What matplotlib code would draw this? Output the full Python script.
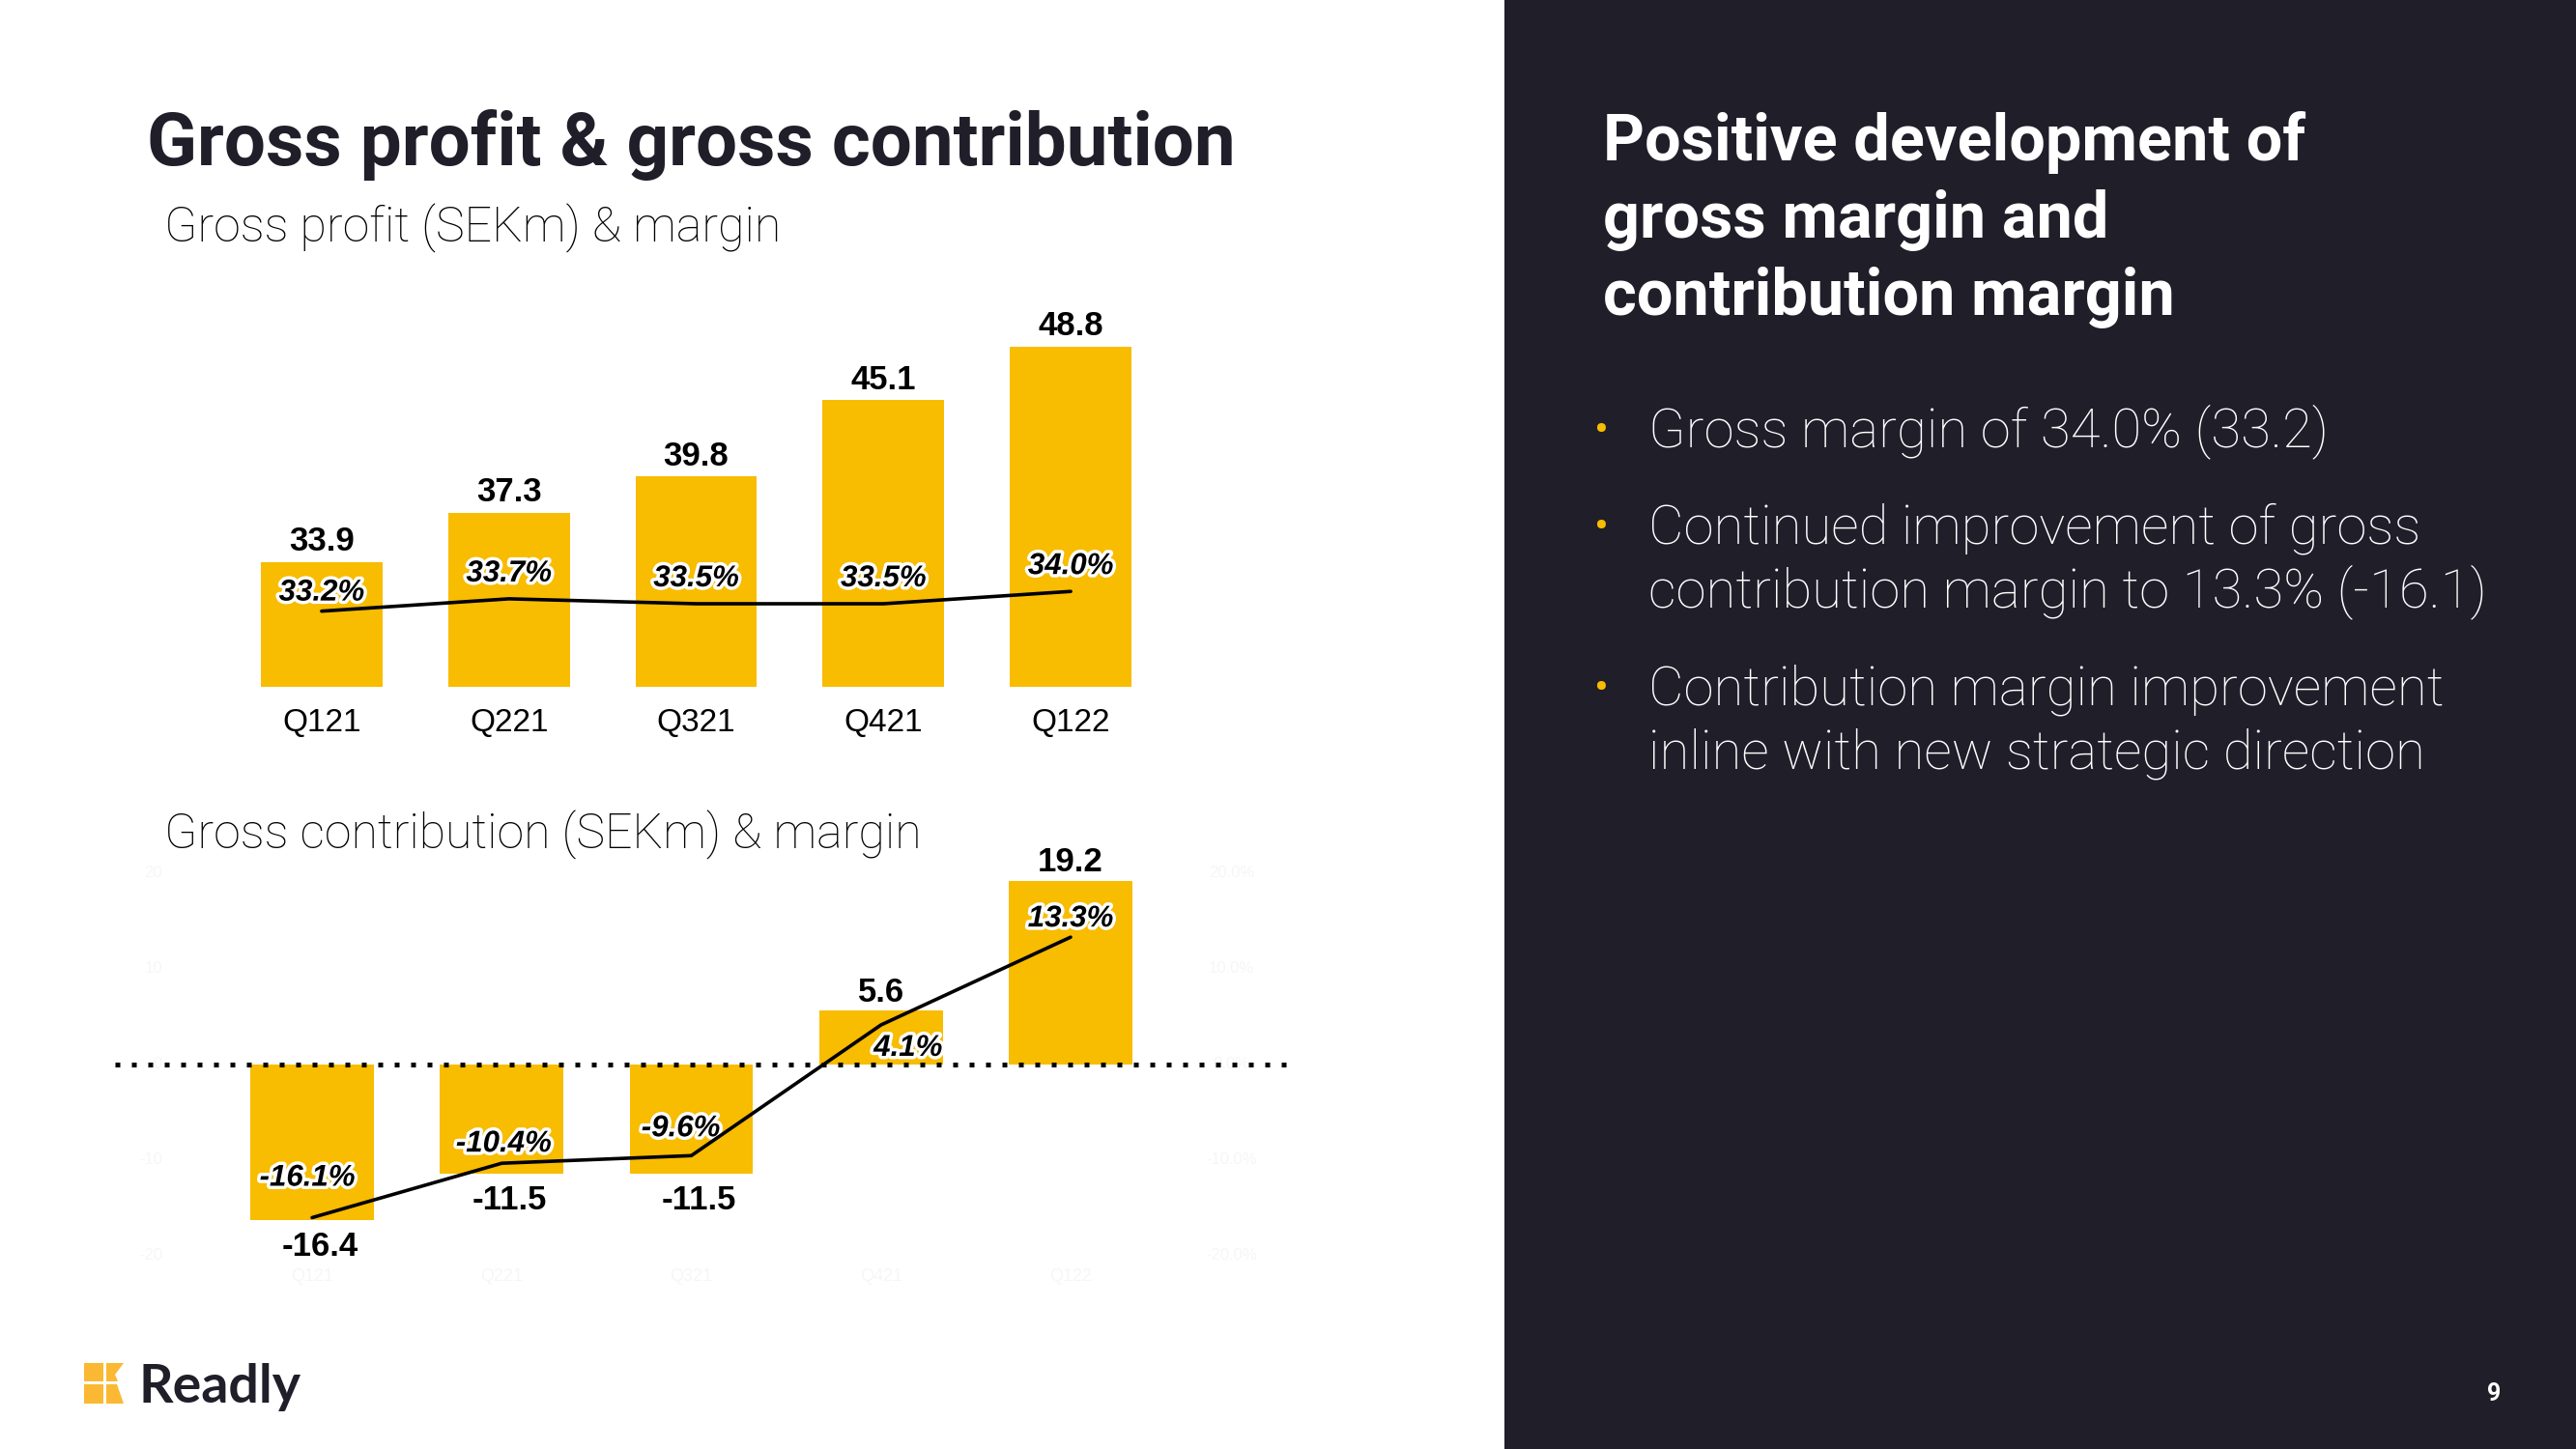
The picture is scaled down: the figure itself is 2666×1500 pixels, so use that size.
import matplotlib
matplotlib.use("Agg")
import matplotlib.pyplot as plt
import matplotlib.patheffects as pe
from matplotlib.patches import Rectangle, Polygon

# data
quarters = ["Q121", "Q221", "Q321", "Q421", "Q122"]
gross_profit = [33.9, 37.3, 39.8, 45.1, 48.8]
gross_margin = [33.2, 33.7, 33.5, 33.5, 34.0]
gross_contrib = [-16.4, -11.5, -11.5, 5.6, 19.2]
contrib_margin = [-16.1, -10.4, -9.6, 4.1, 13.3]
ghost_left = [20, 10, 0, -10, -20]
ghost_right = ["20.0%", "10.0%", "0.0%", "-10.0%", "-20.0%"]

bullets = [
    ["Gross margin of 34.0% (33.2)"],
    ["Continued improvement of gross", "contribution margin to 13.3% (-16.1)"],
    ["Contribution margin improvement", "inline with new strategic direction"],
]

YELLOW = "#F8BC00"
DARK = "#1f1e29"
W, H = 2666, 1500


def fx(x):
    return x / W


def fy(y):
    return 1 - y / H


fig = plt.figure(figsize=(W / 100, H / 100), dpi=100)
fig.patch.set_facecolor("white")

# dark panel on the right
fig.patches.append(Rectangle((fx(1557), 0), 1 - fx(1557), 1, transform=fig.transFigure,
                             facecolor=DARK, edgecolor="none", zorder=0))

# titles
fig.text(fx(152), fy(150), "Gross profit & gross contribution", fontsize=55,
         fontfamily="Roboto", fontweight="bold", color=DARK, va="center")
fig.text(fx(170), fy(236), "Gross profit (SEKm) & margin", fontsize=36,
         fontfamily="Roboto", fontweight="light", color="black", va="center")
fig.text(fx(170), fy(864), "Gross contribution (SEKm) & margin", fontsize=36,
         fontfamily="Roboto", fontweight="light", color="black", va="center")

lab = dict(fontfamily="Liberation Sans", fontsize=25, fontweight="bold", color="black",
           ha="center", va="center")
pct = dict(fontfamily="Liberation Sans", fontsize=22.5, fontweight="bold", style="italic",
           color="black", ha="center", va="center",
           path_effects=[pe.withStroke(linewidth=5, foreground="white")])

# ---- top chart: gross profit ----
ax1 = fig.add_axes([fx(236), fy(711), fx(1205) - fx(236), fy(306) - fy(711)])
x = range(len(quarters))
ax1.bar(x, gross_profit, width=0.65, color=YELLOW, bottom=0)
ax1.set_xlim(-0.5, 4.5)
ax1.set_ylim(25.25, 52.33)
ax1.axis("off")
for i, v in enumerate(gross_profit):
    ax1.annotate(f"{v:.1f}", (i, v), xytext=(0, 21), textcoords="offset pixels", **lab)
    ax1.text(i, 22.77, quarters[i], fontfamily="Liberation Sans", fontsize=24,
             color="black", ha="center", va="center", clip_on=False)
ax1b = ax1.twinx()
ax1b.set_ylim(30.13, 46.0)
ax1b.plot(x, gross_margin, color="black", lw=2.6, solid_capstyle="round")
ax1b.axis("off")
for i, m in enumerate(gross_margin):
    dy = 19 if i == 0 else 26
    ax1b.annotate(f"{m:.1f}%", (i, m), xytext=(0, dy), textcoords="offset pixels", **pct)

# ---- bottom chart: gross contribution ----
x0, step = 323, 196.25
left, right = 119, 1343
ax2 = fig.add_axes([fx(left), fy(1299), fx(right) - fx(left), fy(904) - fy(1299)])
ax2.set_xlim((left - x0) / step, (right - x0) / step)
ax2.set_ylim(-20, 20)
ax2.bar(x, gross_contrib, width=0.65, color=YELLOW, zorder=2)
ax2.axhline(0, color="black", lw=3.6, linestyle=(0, (1, 2.4)), dash_capstyle="butt", zorder=4)
ax2.axis("off")
for i, v in enumerate(gross_contrib):
    off = (0, 19) if v > 0 else (8, -27)
    ax2.annotate(f"{v:.1f}", (i, v), xytext=off, textcoords="offset pixels", **lab)
    ax2.text(i, -22.3, quarters[i], fontfamily="Liberation Sans", fontsize=13,
             color="#f6f6f6", ha="center", va="center", clip_on=False)
for k, g in enumerate(ghost_left):
    ax2.text(-0.79, g, str(g), fontfamily="Liberation Sans", fontsize=12,
             color="#f6f6f6", ha="right", va="center", zorder=1)
    ax2.text(4.85, g, ghost_right[k], fontfamily="Liberation Sans", fontsize=12,
             color="#f6f6f6", ha="center", va="center", zorder=1)
ax2b = ax2.twinx()
ax2b.set_ylim(-20, 20)
ax2b.plot(x, contrib_margin, color="black", lw=2.6, solid_capstyle="round", zorder=5)
ax2b.axis("off")
pct_off = [(-5, 41), (2, 20), (-11, 28), (28, -24), (0, 19)]
for i, m in enumerate(contrib_margin):
    ax2b.annotate(f"{m:.1f}%", (i, m), xytext=pct_off[i], textcoords="offset pixels", **pct)

# ---- right panel text ----
for k, line in enumerate(["Positive development of", "gross margin and", "contribution margin"]):
    fig.text(fx(1659), fy(148 + 80 * k), line, fontsize=48, fontfamily="Roboto",
             fontweight="bold", color="white", va="center")
ys = [447, 547, 714]
for k, lines in enumerate(bullets):
    fig.text(fx(1650), fy(ys[k]), "\u2022", fontsize=32, fontfamily="Roboto",
             color=YELLOW, va="center")
    for j, line in enumerate(lines):
        fig.text(fx(1706), fy(ys[k] + 66 * j), line, fontsize=40.5, fontfamily="Roboto",
                 fontweight="light", color="white", va="center")
fig.text(fx(2581), fy(1443), "9", fontsize=18, fontfamily="Roboto", fontweight="bold",
         color="white", ha="center", va="center")

# ---- logo ----
logo = [
    [(87, 1411), (107, 1411), (107, 1430), (87, 1430)],
    [(110, 1411), (128, 1411), (119, 1423), (122, 1430), (110, 1430)],
    [(87, 1433), (107, 1433), (107, 1453), (87, 1453)],
    [(110, 1433), (121, 1433), (128, 1453), (110, 1453)],
]
for poly in logo:
    fig.patches.append(Polygon([(fx(a), fy(b)) for a, b in poly], closed=True,
                               transform=fig.transFigure, facecolor="#FBB832",
                               edgecolor="none"))
fig.text(fx(143), fy(1436), "Readly", fontsize=40, fontfamily="Lato", fontweight="bold",
         color=DARK, va="center")

fig.savefig("out.png", dpi=100)
